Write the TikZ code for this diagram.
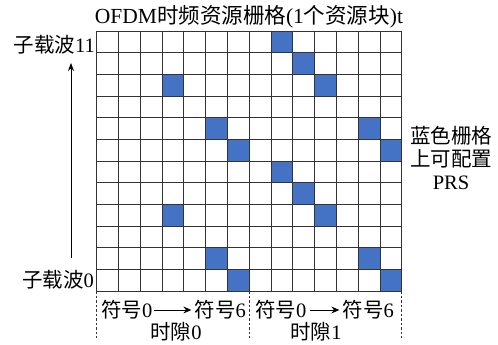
\documentclass[tikz,border=0pt]{standalone}
\usepackage{fontspec}
\setmainfont{Liberation Serif}
\newfontfamily\cjk{Noto Sans CJK SC}
\usetikzlibrary{arrows.meta}
\definecolor{prsblue}{HTML}{4472C4}
\begin{document}
\begin{tikzpicture}[x=1pt,y=-1pt,
  lbl/.style={font=\fontsize{20.5}{23}\selectfont, inner sep=0pt},
  gridline/.style={draw=black!80, line width=0.7pt},
  cellfill/.style={fill=prsblue},
  guide/.style={draw=black!80, line width=0.6pt, dash pattern=on 2.5pt off 2pt},
  axisarrow/.style={draw=black, line width=0.8pt, -{Stealth[length=8pt,width=6pt]}},
  symarrow/.style={draw=black, line width=1pt, -{Stealth[length=8pt,width=7pt]}}]
\useasboundingbox (0,0) rectangle (498,345);
\def\gl{96.7}\def\gt{31}\def\cw{21.786}\def\ch{21.667}
% blue cells
\foreach \r/\c in {0/8,1/9,2/3,2/10,4/5,4/12,5/6,5/13,6/8,7/9,8/3,8/10,10/5,10/12,11/6,11/13}
  \fill[cellfill] ({\gl+\c*\cw},{\gt+\r*\ch}) rectangle ++(\cw,\ch);
% grid
\foreach \i in {0,...,14}
  \draw[gridline] ({\gl+\i*\cw},\gt) -- ({\gl+\i*\cw},{\gt+12*\ch});
\foreach \j in {0,...,12}
  \draw[gridline] (\gl,{\gt+\j*\ch}) -- ({\gl+14*\cw},{\gt+\j*\ch});
% dashed guides
\foreach \i in {0,7,14}
  \draw[guide] ({\gl+\i*\cw},{\gt+12*\ch}) -- ({\gl+\i*\cw},338);
% title
\node[lbl, font=\fontsize{21.5}{24}\selectfont] (title) at (249,17) {OFDM{\cjk 时频资源栅格}(1{\cjk 个资源块})t};
% subcarrier labels
\node[lbl, anchor=east] (sc11) at (95,45) {{\cjk 子载波}11};
\node[lbl, anchor=east] (sc0) at (94,280) {{\cjk 子载波}0};
\coordinate (abot) at (71,258);
\coordinate (atop) at (71,63);
\draw[axisarrow] (abot) -- (atop);
% symbol labels
\node[lbl, anchor=west] (s0a) at (101,310) {{\cjk 符号}0};
\node[lbl, anchor=east] (s6a) at (246,310) {{\cjk 符号}6};
\node[lbl, anchor=west] (s0b) at (255,310) {{\cjk 符号}0};
\node[lbl, anchor=east] (s6b) at (394,310) {{\cjk 符号}6};
\draw[symarrow] ([xshift=1pt]s0a.east) -- ([xshift=-3pt]s6a.west);
\draw[symarrow] ([xshift=3pt]s0b.east) -- ([xshift=-3pt]s6b.west);
% slot labels
\node[lbl] (slot0) at (176,332) {{\cjk 时隙}0};
\node[lbl] (slot1) at (316,332) {{\cjk 时隙}1};
% right note
\node[lbl, align=center] (note) at (451,158) {{\cjk 蓝色栅格}\\{\cjk 上可配置}\\PRS};
\end{tikzpicture}
\end{document}
